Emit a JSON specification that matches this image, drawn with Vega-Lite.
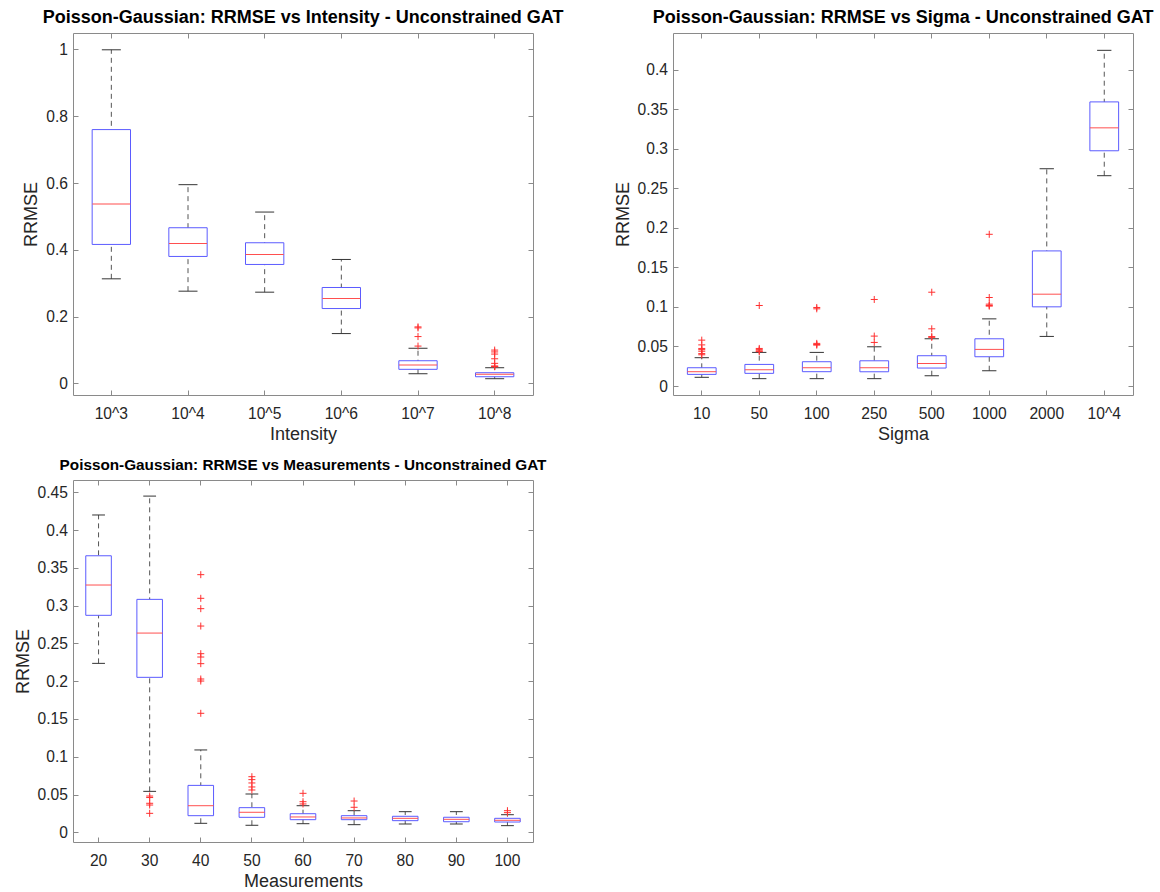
{
  "$schema": "https://vega.github.io/schema/vega-lite/v6.json",
  "background": "white",
  "padding": {"left": 13, "top": 8, "right": 5, "bottom": 5},
  "config": {
    "font": "Liberation Sans",
    "view": {"stroke": "#8a8a8a", "strokeWidth": 1},
    "axis": {
      "labelFont": "Liberation Sans",
      "labelFontSize": 15.6,
      "labelColor": "#262626",
      "tickColor": "#8a8a8a",
      "tickSize": -5,
      "domain": false,
      "grid": false,
      "titleFont": "Liberation Sans",
      "titleFontSize": 18,
      "titleFontWeight": "normal",
      "titleColor": "#262626"
    },
    "axisX": {"labelPadding": 16.6, "labelAngle": 0, "titlePadding": 3},
    "axisY": {"labelPadding": 10.6, "titlePadding": 5},
    "title": {"font": "Liberation Sans", "fontWeight": "bold", "color": "#000000", "frame": "group", "anchor": "middle", "baseline": "alphabetic", "offset": 6}
  },
  "datasets": {
    "tl_box": [
      {"cat": "10^3", "lo": 0.313, "q1": 0.416, "med": 0.537, "q3": 0.760, "hi": 0.999},
      {"cat": "10^4", "lo": 0.276, "q1": 0.380, "med": 0.419, "q3": 0.466, "hi": 0.595},
      {"cat": "10^5", "lo": 0.273, "q1": 0.356, "med": 0.386, "q3": 0.421, "hi": 0.513},
      {"cat": "10^6", "lo": 0.149, "q1": 0.224, "med": 0.254, "q3": 0.287, "hi": 0.371},
      {"cat": "10^7", "lo": 0.0287, "q1": 0.0419, "med": 0.0547, "q3": 0.0676, "hi": 0.105},
      {"cat": "10^8", "lo": 0.0138, "q1": 0.0197, "med": 0.0269, "q3": 0.0317, "hi": 0.0467}
    ],
    "tl_out": [
      {"cat": "10^7", "v": 0.169}, {"cat": "10^7", "v": 0.166}, {"cat": "10^7", "v": 0.140}, {"cat": "10^7", "v": 0.1115},
      {"cat": "10^8", "v": 0.0996}, {"cat": "10^8", "v": 0.094}, {"cat": "10^8", "v": 0.0876}, {"cat": "10^8", "v": 0.0735},
      {"cat": "10^8", "v": 0.0598}, {"cat": "10^8", "v": 0.052}, {"cat": "10^8", "v": 0.0505}, {"cat": "10^8", "v": 0.0496}
    ],
    "tr_box": [
      {"cat": "10", "lo": 0.011, "q1": 0.0147, "med": 0.0181, "q3": 0.0231, "hi": 0.0358},
      {"cat": "50", "lo": 0.0093, "q1": 0.016, "med": 0.0206, "q3": 0.0273, "hi": 0.0425},
      {"cat": "100", "lo": 0.0093, "q1": 0.0181, "med": 0.0231, "q3": 0.0307, "hi": 0.0425},
      {"cat": "250", "lo": 0.0093, "q1": 0.018, "med": 0.0231, "q3": 0.0319, "hi": 0.0496},
      {"cat": "500", "lo": 0.013, "q1": 0.0227, "med": 0.0286, "q3": 0.0383, "hi": 0.0597},
      {"cat": "1000", "lo": 0.0193, "q1": 0.037, "med": 0.0463, "q3": 0.0597, "hi": 0.0849},
      {"cat": "2000", "lo": 0.0627, "q1": 0.1001, "med": 0.1161, "q3": 0.1708, "hi": 0.2747},
      {"cat": "10^4", "lo": 0.2659, "q1": 0.2974, "med": 0.3264, "q3": 0.3592, "hi": 0.4244}
    ],
    "tr_out": [
      {"cat": "10", "v": 0.058}, {"cat": "10", "v": 0.052}, {"cat": "10", "v": 0.0475}, {"cat": "10", "v": 0.046}, {"cat": "10", "v": 0.044}, {"cat": "10", "v": 0.041}, {"cat": "10", "v": 0.0395},
      {"cat": "50", "v": 0.1018}, {"cat": "50", "v": 0.0475}, {"cat": "50", "v": 0.046}, {"cat": "50", "v": 0.0445}, {"cat": "50", "v": 0.0435},
      {"cat": "100", "v": 0.0993}, {"cat": "100", "v": 0.0976}, {"cat": "100", "v": 0.0539}, {"cat": "100", "v": 0.0525}, {"cat": "100", "v": 0.0517},
      {"cat": "250", "v": 0.1094}, {"cat": "250", "v": 0.0631}, {"cat": "250", "v": 0.0551},
      {"cat": "500", "v": 0.1186}, {"cat": "500", "v": 0.0723}, {"cat": "500", "v": 0.0625}, {"cat": "500", "v": 0.0615},
      {"cat": "1000", "v": 0.1918}, {"cat": "1000", "v": 0.1119}, {"cat": "1000", "v": 0.1035}, {"cat": "1000", "v": 0.1018}, {"cat": "1000", "v": 0.101}
    ],
    "b_box": [
      {"cat": "20", "lo": 0.2236, "q1": 0.2872, "med": 0.3273, "q3": 0.366, "hi": 0.420},
      {"cat": "30", "lo": 0.0542, "q1": 0.2051, "med": 0.2637, "q3": 0.3083, "hi": 0.445},
      {"cat": "40", "lo": 0.0119, "q1": 0.022, "med": 0.0352, "q3": 0.0621, "hi": 0.109},
      {"cat": "50", "lo": 0.0093, "q1": 0.0198, "med": 0.0265, "q3": 0.0326, "hi": 0.0507},
      {"cat": "60", "lo": 0.0114, "q1": 0.0167, "med": 0.0203, "q3": 0.0246, "hi": 0.0352},
      {"cat": "70", "lo": 0.0101, "q1": 0.0167, "med": 0.019, "q3": 0.022, "hi": 0.0286},
      {"cat": "80", "lo": 0.011, "q1": 0.0154, "med": 0.0185, "q3": 0.0212, "hi": 0.0273},
      {"cat": "90", "lo": 0.011, "q1": 0.014, "med": 0.0172, "q3": 0.0199, "hi": 0.0273},
      {"cat": "100", "lo": 0.0088, "q1": 0.0136, "med": 0.0159, "q3": 0.0185, "hi": 0.0233}
    ],
    "b_out": [
      {"cat": "30", "v": 0.048}, {"cat": "30", "v": 0.046}, {"cat": "30", "v": 0.0384}, {"cat": "30", "v": 0.0361}, {"cat": "30", "v": 0.0251},
      {"cat": "40", "v": 0.341}, {"cat": "40", "v": 0.3097}, {"cat": "40", "v": 0.296}, {"cat": "40", "v": 0.273}, {"cat": "40", "v": 0.2364},
      {"cat": "40", "v": 0.232}, {"cat": "40", "v": 0.2232}, {"cat": "40", "v": 0.2029}, {"cat": "40", "v": 0.2002}, {"cat": "40", "v": 0.1575},
      {"cat": "50", "v": 0.0736}, {"cat": "50", "v": 0.0697}, {"cat": "50", "v": 0.0653}, {"cat": "50", "v": 0.06}, {"cat": "50", "v": 0.056},
      {"cat": "60", "v": 0.0516}, {"cat": "60", "v": 0.0405}, {"cat": "60", "v": 0.0375},
      {"cat": "70", "v": 0.0414}, {"cat": "70", "v": 0.0331},
      {"cat": "100", "v": 0.0286}, {"cat": "100", "v": 0.026}
    ]
  },
  "columns": 2,
  "spacing": {"row": 85, "column": 140},
  "bounds": "flush",
  "concat": [
    {
      "title": {"text": "Poisson-Gaussian: RRMSE vs Intensity - Unconstrained GAT", "fontSize": 18},
      "width": 460, "height": 362,
      "resolve": {"axis": {"x": "independent", "y": "independent"}},
      "layer": [
        {
          "data": {"name": "tl_box"},
          "mark": {"type": "rule", "color": "#555555", "strokeWidth": 1, "strokeDash": [5, 4]},
          "encoding": {
            "x": {"field": "cat", "type": "nominal", "sort": null, "scale": {"domain": ["10^3", "10^4", "10^5", "10^6", "10^7", "10^8"], "paddingInner": 0, "paddingOuter": 0}, "axis": {"title": "Intensity"}},
            "y": {"field": "lo", "type": "quantitative", "scale": {"domain": [-0.035, 1.0493], "nice": false, "zero": false}, "axis": {"title": "RRMSE", "values": [0, 0.2, 0.4, 0.6, 0.8, 1], "format": "~g"}},
            "y2": {"field": "hi"}
          }
        },
        {
          "data": {"name": "tl_box"},
          "mark": {"type": "bar", "fill": "white", "stroke": "#5b5bff", "strokeWidth": 1, "width": {"band": 0.5}},
          "encoding": {
            "x": {"field": "cat", "type": "nominal", "sort": null, "axis": null},
            "y": {"field": "q1", "type": "quantitative", "axis": null},
            "y2": {"field": "q3"}
          }
        },
        {
          "data": {"name": "tl_box"},
          "mark": {"type": "tick", "color": "#333333", "size": 19, "thickness": 1, "opacity": 1},
          "encoding": {
            "x": {"field": "cat", "type": "nominal", "sort": null, "axis": null},
            "y": {"field": "lo", "type": "quantitative", "axis": null}
          }
        },
        {
          "data": {"name": "tl_box"},
          "mark": {"type": "tick", "color": "#333333", "size": 19, "thickness": 1, "opacity": 1},
          "encoding": {
            "x": {"field": "cat", "type": "nominal", "sort": null, "axis": null},
            "y": {"field": "hi", "type": "quantitative", "axis": null}
          }
        },
        {
          "data": {"name": "tl_box"},
          "mark": {"type": "tick", "color": "#ff4f4f", "size": 38, "thickness": 1, "opacity": 1},
          "encoding": {
            "x": {"field": "cat", "type": "nominal", "sort": null, "axis": null},
            "y": {"field": "med", "type": "quantitative", "axis": null}
          }
        },
        {
          "data": {"name": "tl_out"},
          "mark": {"type": "point", "shape": "M-1,0L1,0M0,-1L0,1", "filled": false, "color": "#ff3030", "size": 49, "strokeWidth": 1, "opacity": 1},
          "encoding": {
            "x": {"field": "cat", "type": "nominal", "sort": null, "axis": {"orient": "top", "labels": false, "title": null}},
            "y": {"field": "v", "type": "quantitative", "axis": {"orient": "right", "labels": false, "title": null, "values": [0, 0.2, 0.4, 0.6, 0.8, 1]}}
          }
        }
      ]
    },
    {
      "title": {"text": "Poisson-Gaussian: RRMSE vs Sigma - Unconstrained GAT", "fontSize": 18},
      "width": 460, "height": 362,
      "resolve": {"axis": {"x": "independent", "y": "independent"}},
      "layer": [
        {
          "data": {"name": "tr_box"},
          "mark": {"type": "rule", "color": "#555555", "strokeWidth": 1, "strokeDash": [5, 4]},
          "encoding": {
            "x": {"field": "cat", "type": "nominal", "sort": null, "scale": {"domain": ["10", "50", "100", "250", "500", "1000", "2000", "10^4"], "paddingInner": 0, "paddingOuter": 0}, "axis": {"title": "Sigma"}},
            "y": {"field": "lo", "type": "quantitative", "scale": {"domain": [-0.01136, 0.4463], "nice": false, "zero": false}, "axis": {"title": "RRMSE", "values": [0, 0.05, 0.1, 0.15, 0.2, 0.25, 0.3, 0.35, 0.4], "format": "~g"}},
            "y2": {"field": "hi"}
          }
        },
        {
          "data": {"name": "tr_box"},
          "mark": {"type": "bar", "fill": "white", "stroke": "#5b5bff", "strokeWidth": 1, "width": {"band": 0.5}},
          "encoding": {
            "x": {"field": "cat", "type": "nominal", "sort": null, "axis": null},
            "y": {"field": "q1", "type": "quantitative", "axis": null},
            "y2": {"field": "q3"}
          }
        },
        {
          "data": {"name": "tr_box"},
          "mark": {"type": "tick", "color": "#333333", "size": 14.3, "thickness": 1, "opacity": 1},
          "encoding": {
            "x": {"field": "cat", "type": "nominal", "sort": null, "axis": null},
            "y": {"field": "lo", "type": "quantitative", "axis": null}
          }
        },
        {
          "data": {"name": "tr_box"},
          "mark": {"type": "tick", "color": "#333333", "size": 14.3, "thickness": 1, "opacity": 1},
          "encoding": {
            "x": {"field": "cat", "type": "nominal", "sort": null, "axis": null},
            "y": {"field": "hi", "type": "quantitative", "axis": null}
          }
        },
        {
          "data": {"name": "tr_box"},
          "mark": {"type": "tick", "color": "#ff4f4f", "size": 28.7, "thickness": 1, "opacity": 1},
          "encoding": {
            "x": {"field": "cat", "type": "nominal", "sort": null, "axis": null},
            "y": {"field": "med", "type": "quantitative", "axis": null}
          }
        },
        {
          "data": {"name": "tr_out"},
          "mark": {"type": "point", "shape": "M-1,0L1,0M0,-1L0,1", "filled": false, "color": "#ff3030", "size": 49, "strokeWidth": 1, "opacity": 1},
          "encoding": {
            "x": {"field": "cat", "type": "nominal", "sort": null, "axis": {"orient": "top", "labels": false, "title": null}},
            "y": {"field": "v", "type": "quantitative", "axis": {"orient": "right", "labels": false, "title": null, "values": [0, 0.05, 0.1, 0.15, 0.2, 0.25, 0.3, 0.35, 0.4]}}
          }
        }
      ]
    },
    {
      "title": {"text": "Poisson-Gaussian: RRMSE vs Measurements - Unconstrained GAT", "fontSize": 15.3},
      "width": 460, "height": 362,
      "resolve": {"axis": {"x": "independent", "y": "independent"}},
      "layer": [
        {
          "data": {"name": "b_box"},
          "mark": {"type": "rule", "color": "#555555", "strokeWidth": 1, "strokeDash": [5, 4]},
          "encoding": {
            "x": {"field": "cat", "type": "nominal", "sort": null, "scale": {"domain": ["20", "30", "40", "50", "60", "70", "80", "90", "100"], "paddingInner": 0, "paddingOuter": 0}, "axis": {"title": "Measurements"}},
            "y": {"field": "lo", "type": "quantitative", "scale": {"domain": [-0.01284, 0.4663], "nice": false, "zero": false}, "axis": {"title": "RRMSE", "values": [0, 0.05, 0.1, 0.15, 0.2, 0.25, 0.3, 0.35, 0.4, 0.45], "format": "~g"}},
            "y2": {"field": "hi"}
          }
        },
        {
          "data": {"name": "b_box"},
          "mark": {"type": "bar", "fill": "white", "stroke": "#5b5bff", "strokeWidth": 1, "width": {"band": 0.5}},
          "encoding": {
            "x": {"field": "cat", "type": "nominal", "sort": null, "axis": null},
            "y": {"field": "q1", "type": "quantitative", "axis": null},
            "y2": {"field": "q3"}
          }
        },
        {
          "data": {"name": "b_box"},
          "mark": {"type": "tick", "color": "#333333", "size": 12.8, "thickness": 1, "opacity": 1},
          "encoding": {
            "x": {"field": "cat", "type": "nominal", "sort": null, "axis": null},
            "y": {"field": "lo", "type": "quantitative", "axis": null}
          }
        },
        {
          "data": {"name": "b_box"},
          "mark": {"type": "tick", "color": "#333333", "size": 12.8, "thickness": 1, "opacity": 1},
          "encoding": {
            "x": {"field": "cat", "type": "nominal", "sort": null, "axis": null},
            "y": {"field": "hi", "type": "quantitative", "axis": null}
          }
        },
        {
          "data": {"name": "b_box"},
          "mark": {"type": "tick", "color": "#ff4f4f", "size": 25.6, "thickness": 1, "opacity": 1},
          "encoding": {
            "x": {"field": "cat", "type": "nominal", "sort": null, "axis": null},
            "y": {"field": "med", "type": "quantitative", "axis": null}
          }
        },
        {
          "data": {"name": "b_out"},
          "mark": {"type": "point", "shape": "M-1,0L1,0M0,-1L0,1", "filled": false, "color": "#ff3030", "size": 49, "strokeWidth": 1, "opacity": 1},
          "encoding": {
            "x": {"field": "cat", "type": "nominal", "sort": null, "axis": {"orient": "top", "labels": false, "title": null}},
            "y": {"field": "v", "type": "quantitative", "axis": {"orient": "right", "labels": false, "title": null, "values": [0, 0.05, 0.1, 0.15, 0.2, 0.25, 0.3, 0.35, 0.4, 0.45]}}
          }
        }
      ]
    }
  ]
}
